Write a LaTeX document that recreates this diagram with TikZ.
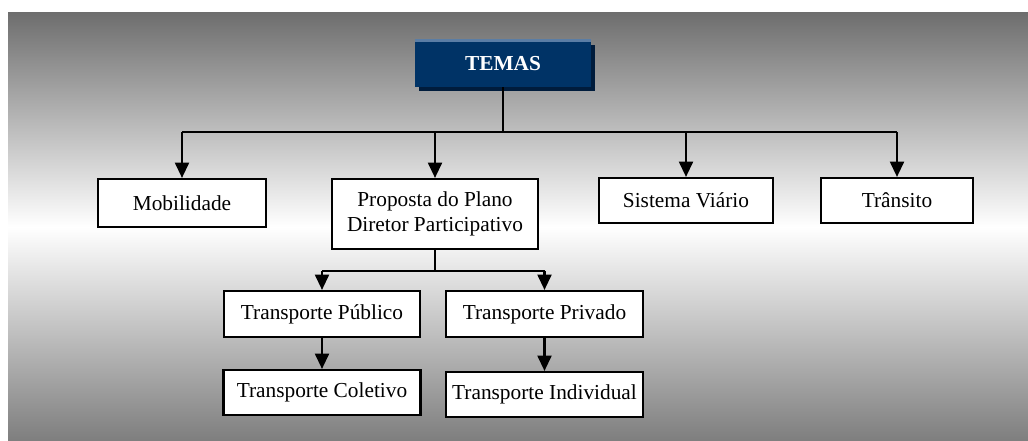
\documentclass[tikz,border=0pt]{standalone}
\usepackage{fontspec}
\setmainfont{Liberation Serif}
\usetikzlibrary{arrows.meta}
\newcommand\pxu{0.75pt}
\definecolor{bgtop}{RGB}{110,110,110}
\definecolor{bgbot}{RGB}{126,126,126}
\definecolor{navy}{RGB}{0,51,102}
\definecolor{navydark}{RGB}{0,28,60}
\definecolor{navylight}{RGB}{90,125,165}
\tikzset{
  box/.style={draw=black, line width=1.6pt, fill=white, inner sep=0pt,
    align=center, font=\fontsize{16}{18.75}\selectfont},
  conn/.style={line width=1.6pt, black},
  arr/.style={conn, -{Triangle[width=10.5pt,length=11.5pt]}},
}
\begin{document}
\begin{tikzpicture}[x=0.75pt,y=-0.75pt]
\useasboundingbox (0,0) rectangle (1028,441);
\fill[white] (0,0) rectangle (1028,441);
\shade[top color=bgtop, bottom color=bgbot, middle color=white] (8,13) rectangle (1028,441);
% TEMAS box with shadow
\fill[navydark] (419,45) rectangle (595,91);
\node[fill=navy, inner sep=0pt, minimum width=176*\pxu, minimum height=46*\pxu,
  text=white, font=\fontsize{16}{18.75}\selectfont\bfseries] (temas) at (503,64) {TEMAS};
\draw[navylight, line width=2pt] (temas.north west) -- (temas.north east);
% level 1
\node[box, minimum width=168*\pxu, minimum height=48*\pxu] (mob) at (182,203) {Mobilidade};
\node[box, minimum width=206*\pxu, minimum height=70*\pxu] (prop) at (435,214) {Proposta do Plano\\Diretor Participativo};
\node[box, minimum width=174*\pxu, minimum height=45*\pxu] (sis) at (686,200.5) {Sistema Viário};
\node[box, minimum width=152*\pxu, minimum height=45*\pxu] (tran) at (897,200.5) {Trânsito};
% level 2
\node[box, minimum width=196*\pxu, minimum height=46*\pxu] (pub) at (322,314) {Transporte Público};
\node[box, minimum width=197*\pxu, minimum height=46*\pxu] (priv) at (544.5,314) {Transporte Privado};
% level 3
\node[box, minimum width=197*\pxu, minimum height=45*\pxu] (col) at (322,392.5) {Transporte Coletivo};
\node[box, minimum width=197*\pxu, minimum height=45*\pxu] (ind) at (544.5,394.5) {Transporte Individual};
% connectors
\coordinate (bus) at (0,132);
\coordinate (subbus) at (0,271);
\draw[conn] (temas.south) -- (temas.south |- bus);
\draw[conn] (mob.north |- bus) -- (tran.north |- bus);
\draw[arr] (mob.north |- bus) -- (mob.north);
\draw[arr] (prop.north |- bus) -- (prop.north);
\draw[arr] (sis.north |- bus) -- (sis.north);
\draw[arr] (tran.north |- bus) -- (tran.north);
\draw[conn] (prop.south) -- (prop.south |- subbus);
\draw[conn] (pub.north |- subbus) -- (priv.north |- subbus);
\draw[arr] (pub.north |- subbus) -- (pub.north);
\draw[arr] (priv.north |- subbus) -- (priv.north);
\draw[arr] (pub.south) -- (col.north);
\draw[arr] (priv.south) -- (ind.north);
\end{tikzpicture}
\end{document}
